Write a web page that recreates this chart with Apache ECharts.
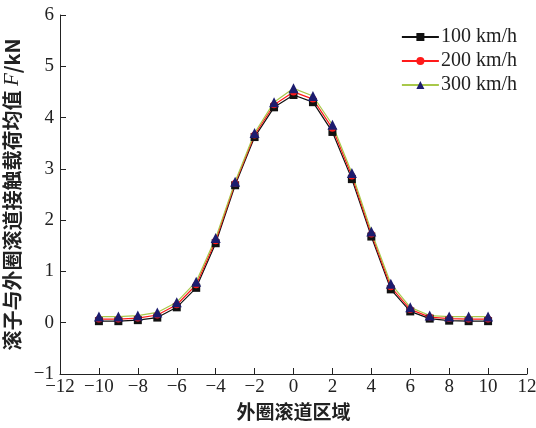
<!DOCTYPE html>
<html>
<head>
<meta charset="utf-8">
<script src="https://cdn.jsdelivr.net/npm/echarts@6/dist/echarts.min.js"></script>
<style>
  html, body { margin: 0; padding: 0; background: #fff; }
  #chart { width: 536px; height: 428px; }
</style>
</head>
<body>
<div id="chart"></div>
<script>
// 外圈滚道区域 (x) and mean contact load F/kN for each speed
const regions = [-10, -9, -8, -7, -6, -5, -4, -3, -2, -1, 0, 1, 2, 3, 4, 5, 6, 7, 8, 9, 10];
const load100 = [0.03, 0.03, 0.05, 0.1, 0.3, 0.68, 1.55, 2.68, 3.62, 4.2, 4.44, 4.3, 3.72, 2.8, 1.68, 0.65, 0.22, 0.08, 0.04, 0.03, 0.03];
const load200 = [0.07, 0.07, 0.09, 0.15, 0.35, 0.74, 1.6, 2.72, 3.66, 4.25, 4.5, 4.36, 3.79, 2.86, 1.73, 0.7, 0.26, 0.11, 0.08, 0.07, 0.07];
const load300 = [0.12, 0.12, 0.14, 0.2, 0.4, 0.8, 1.65, 2.75, 3.7, 4.3, 4.57, 4.42, 3.86, 2.92, 1.78, 0.76, 0.3, 0.14, 0.12, 0.12, 0.12];
const seriesNames = ['100 km/h', '200 km/h', '300 km/h'];

const serif = '"Liberation Serif", "DejaVu Serif", serif';
const cjk = '"Noto Sans CJK SC", sans-serif';
const minus = v => String(v).replace('-', '\u2212');

function toPairs(vals) {
  return regions.map((x, i) => [x, vals[i]]);
}

const chart = echarts.init(document.getElementById('chart'));

const axisCommon = {
  axisLine: { show: true, onZero: false, lineStyle: { color: '#222', width: 1 } },
  axisTick: { show: true, inside: true, length: 6, lineStyle: { color: '#222' } },
  splitLine: { show: false },
  axisLabel: { color: '#222', fontFamily: serif, fontSize: 19, formatter: minus },
};

chart.setOption({
  animation: false,
  grid: { left: 60, right: 9, top: 15, bottom: 54, containLabel: false, outerBoundsMode: 'none' },
  legend: {
    orient: 'vertical',
    right: 14,
    top: 22,
    itemWidth: 37,
    itemHeight: 10,
    itemGap: 4,
    textStyle: { fontFamily: serif, fontSize: 20, color: '#222', padding: [0, 0, 0, -3] },
    data: seriesNames,
  },
  xAxis: Object.assign({}, axisCommon, {
    type: 'value',
    min: -12,
    max: 12,
    interval: 2,
    name: '外圈滚道区域',
    nameLocation: 'middle',
    nameGap: 26,
    nameTextStyle: { fontFamily: cjk, fontSize: 19, fontWeight: 'bold', color: '#222' },
    axisLabel: Object.assign({}, axisCommon.axisLabel, { margin: 4 }),
  }),
  yAxis: Object.assign({}, axisCommon, {
    type: 'value',
    min: -1,
    max: 6,
    interval: 1,
    name: '{c|滚子与外圈滚道接触载荷均值 }{i|F}{c|/kN}',
    nameLocation: 'middle',
    nameRotate: 90,
    nameGap: 31,
    nameTextStyle: {
      rich: {
        c: { fontFamily: cjk, fontSize: 20, fontWeight: 'bold', color: '#222' },
        i: { fontFamily: serif, fontSize: 21, fontStyle: 'italic', color: '#222' },
      },
    },
    axisLabel: Object.assign({}, axisCommon.axisLabel, { margin: 6 }),
  }),
  series: [
    {
      name: seriesNames[0],
      type: 'line',
      data: toPairs(load100),
      symbol: 'rect',
      symbolSize: 8,
      color: '#111',
      lineStyle: { color: '#111', width: 1.2 },
      itemStyle: { color: '#111' },
    },
    {
      name: seriesNames[1],
      type: 'line',
      data: toPairs(load200),
      symbol: 'circle',
      symbolSize: 7,
      color: '#ff1a1a',
      lineStyle: { color: '#ff1a1a', width: 1.2 },
      itemStyle: { color: '#ff1a1a' },
    },
    {
      name: seriesNames[2],
      type: 'line',
      data: toPairs(load300),
      symbol: 'triangle',
      symbolSize: 10,
      color: '#1c1c6e',
      lineStyle: { color: '#a8c84a', width: 1.2 },
      itemStyle: { color: '#1c1c6e' },
    },
  ],
});
</script>
</body>
</html>
